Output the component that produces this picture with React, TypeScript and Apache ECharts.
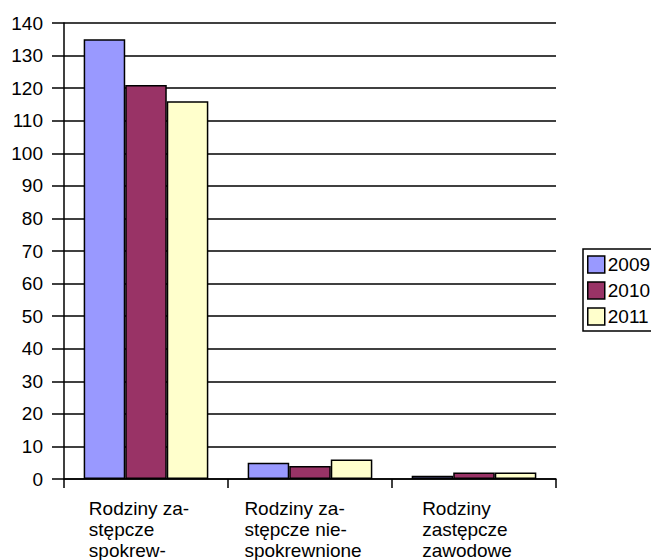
import React, { useEffect, useRef } from "react";
import * as echarts from "echarts";

const categories = [
  "Rodziny za-\nstępcze\nspokrew-",
  "Rodziny za-\nstępcze nie-\nspokrewnione",
  "Rodziny\nzastępcze\nzawodowe",
];
const seriesNames = ["2009", "2010", "2011"];
const values2009 = [135, 5, 1];
const values2010 = [121, 4, 2];
const values2011 = [116, 6, 2];
const colors = ["#9999FF", "#993366", "#FFFFCC"];
const yTicks = { min: 0, max: 140, interval: 10 };

const FONT = "'Liberation Sans', Arial, sans-serif";
const FS = 19;

export default function App() {
  const ref = useRef<HTMLDivElement>(null);
  useEffect(() => {
    if (!ref.current) return;
    const chart = echarts.init(ref.current, undefined, { renderer: "svg" });
    const data = [values2009, values2010, values2011];
    chart.setOption({
      animation: false,
      backgroundColor: "#ffffff",
      textStyle: { fontFamily: FONT },
      grid: { left: 64, right: 95, top: 23, bottom: 80, containLabel: false },
      legend: {
        orient: "vertical",
        left: 583,
        top: 249,
        padding: [6, 6, 5, 4],
        itemWidth: 17,
        itemHeight: 17,
        itemGap: 7,
        icon: "rect",
        borderColor: "#000",
        borderWidth: 1.5,
        backgroundColor: "#fff",
        itemStyle: { borderColor: "#000", borderWidth: 1.5 },
        textStyle: { fontSize: FS, color: "#000", fontFamily: FONT, padding: [0, 0, 0, -2] },
        data: seriesNames,
      },
      xAxis: {
        type: "category",
        data: categories,
        axisLine: { lineStyle: { color: "#000", width: 1.5 } },
        axisTick: { show: true, length: 9, lineStyle: { color: "#000", width: 1.5 } },
        axisLabel: {
          interval: 0,
          margin: 19,
          align: "center",
          verticalAlign: "top",
          color: "#000",
          padding: [0, 14, 0, 0],
          formatter: (v: string) =>
            v
              .split("\n")
              .map((l) => `{a|${l}}`)
              .join("\n"),
          rich: {
            a: { align: "left", fontSize: FS, lineHeight: 21, fontFamily: FONT, color: "#000" },
          },
        },
        splitLine: { show: false },
      },
      yAxis: {
        type: "value",
        min: yTicks.min,
        max: yTicks.max,
        interval: yTicks.interval,
        axisLine: { show: true, lineStyle: { color: "#000", width: 1.5 } },
        axisTick: { show: true, length: 12, lineStyle: { color: "#000", width: 1.5 } },
        axisLabel: { margin: 21, fontSize: FS, color: "#000", fontFamily: FONT },
        splitLine: { show: true, lineStyle: { color: "#000", width: 1.5 } },
      },
      series: seriesNames.map((name, i) => ({
        name,
        type: "bar",
        data: data[i],
        barGap: "0%",
        barCategoryGap: "24%",
        itemStyle: { color: colors[i], borderColor: "#000", borderWidth: 1.5 },
      })),
    });
    return () => chart.dispose();
  }, []);
  return (
    <div
      ref={ref}
      style={{ position: "fixed", left: 0, top: 0, width: 651, height: 560, background: "#fff" }}
    />
  );
}
